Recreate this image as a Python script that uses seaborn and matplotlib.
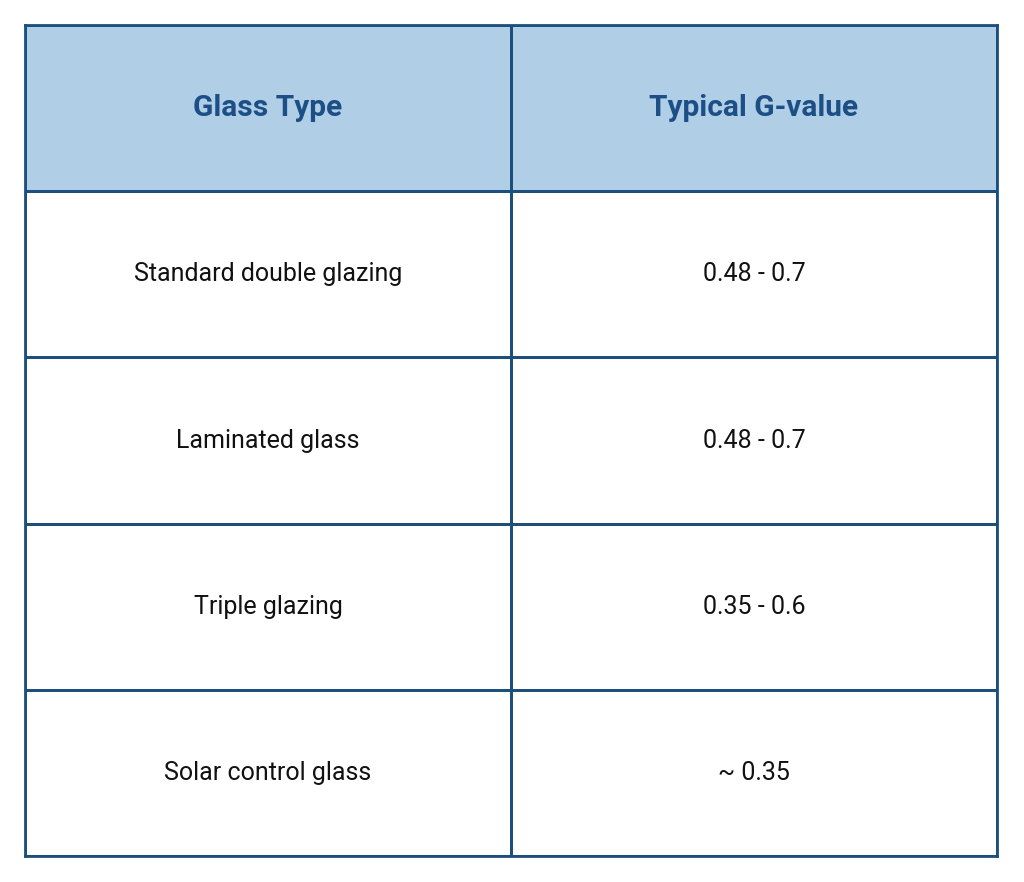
import matplotlib
matplotlib.use("Agg")
import matplotlib.pyplot as plt
import seaborn as sns
import numpy as np
from matplotlib.colors import ListedColormap

headers = ["Glass Type", "Typical G-value"]
glass_types = ["Standard double glazing", "Laminated glass", "Triple glazing", "Solar control glass"]
g_values = ["0.48 - 0.7", "0.48 - 0.7", "0.35 - 0.6", "~ 0.35"]

header_bg = "#b0cfe6"
border = "#1d4f7c"
header_fg = "#1b4f86"

n_rows = len(glass_types) + 1
mask_vals = np.zeros((n_rows, 2))
mask_vals[0, :] = 1

fig = plt.figure(figsize=(10.24, 8.82), dpi=100)
ax = fig.add_axes([25/1024, 26/882, 972/1024, 831/882])
sns.heatmap(mask_vals, cmap=ListedColormap(["white", header_bg]), cbar=False,
            linewidths=2, linecolor=border, ax=ax, xticklabels=False, yticklabels=False)
for s in ax.spines.values():
    s.set_visible(True)
    s.set_color(border)
    s.set_linewidth(2)

for j, h in enumerate(headers):
    ax.text(j + 0.5, 0.5, h, ha="center", va="center", fontsize=21.5,
            fontweight="bold", color=header_fg, family=["Roboto", "DejaVu Sans"])
for i, (t, g) in enumerate(zip(glass_types, g_values)):
    for j, s in enumerate((t, g)):
        ax.text(j + 0.5, i + 1.5, s, ha="center", va="center", fontsize=18,
                color="#111111", family=["Roboto", "DejaVu Sans"])

fig.savefig("out.png", dpi=100, facecolor="white")
